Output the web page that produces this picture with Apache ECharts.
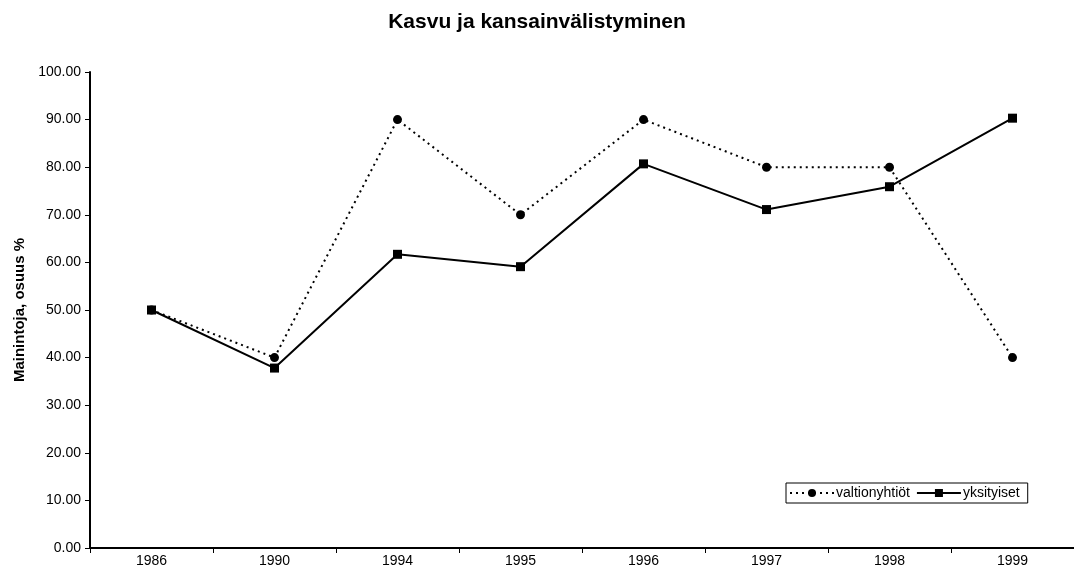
<!DOCTYPE html>
<html>
<head>
<meta charset="utf-8">
<style>
  html, body { margin: 0; padding: 0; background: #fff; }
</style>
</head>
<body>

<!-- Chart container -->
<div id="chart" style="width:1074px; height:581px;"></div>

<script src="https://cdn.jsdelivr.net/npm/echarts@6/dist/echarts.min.js"></script>

<script>
  // Data
  var years = ['1986', '1990', '1994', '1995', '1996', '1997', '1998', '1999'];
  var valtionyhtiot = [50, 40, 90, 70, 90, 80, 80, 40];
  var yksityiset = [50, 37.8, 61.7, 59.1, 80.7, 71.1, 75.9, 90.3];

  var font = 'Liberation Sans, Arial, sans-serif';

  var option = {
    backgroundColor: '#fff',
    animation: false,
    title: {
      text: 'Kasvu ja kansainvälistyminen',
      left: 'center',
      top: 7,
      textStyle: {
        fontFamily: font,
        fontSize: 21,
        fontWeight: 'bold',
        color: '#000'
      }
    },
    legend: {
      left: 786,
      top: 483,
      orient: 'horizontal',
      borderColor: '#000',
      borderWidth: 1,
      borderRadius: 0,
      padding: [3, 8, 3, 3],
      itemGap: 6,
      itemWidth: 44,
      itemHeight: 10,
      textStyle: {
        fontFamily: font,
        fontSize: 14,
        color: '#000',
        padding: [0, 0, 0, -3]
      },
      data: ['valtionyhtiöt', 'yksityiset']
    },
    grid: {
      left: 90,
      top: 72,
      width: 987,
      height: 476,
      containLabel: false
    },
    xAxis: {
      type: 'category',
      data: years,
      boundaryGap: true,
      axisLine: { lineStyle: { color: '#000', width: 2 } },
      axisTick: { show: true, length: 5, lineStyle: { color: '#000' } },
      axisLabel: {
        margin: 6,
        fontFamily: font,
        fontSize: 14,
        color: '#000'
      },
      splitLine: { show: false }
    },
    yAxis: {
      type: 'value',
      min: 0,
      max: 100,
      interval: 10,
      name: 'Mainintoja, osuus %',
      nameLocation: 'middle',
      nameGap: 63,
      nameRotate: 90,
      nameTextStyle: {
        fontFamily: font,
        fontSize: 15,
        fontWeight: 'bold',
        color: '#000'
      },
      axisLine: { show: true, lineStyle: { color: '#000', width: 2 } },
      axisTick: { show: true, length: 5, lineStyle: { color: '#000' } },
      axisLabel: {
        margin: 9,
        fontFamily: font,
        fontSize: 14,
        color: '#000',
        formatter: function (v) {
          return v.toFixed(2);
        }
      },
      splitLine: { show: false }
    },
    series: [
      {
        name: 'valtionyhtiöt',
        type: 'line',
        data: valtionyhtiot,
        symbol: 'circle',
        symbolSize: 9,
        itemStyle: { color: '#000' },
        lineStyle: { color: '#000', width: 2, type: [2, 4] },
        z: 2
      },
      {
        name: 'yksityiset',
        type: 'line',
        data: yksityiset,
        symbol: 'rect',
        symbolSize: 9,
        itemStyle: { color: '#000' },
        lineStyle: { color: '#000', width: 2, type: 'solid' },
        z: 3
      }
    ]
  };

  var chart = echarts.init(document.getElementById('chart'));
  chart.setOption(option);
</script>
</body>
</html>
